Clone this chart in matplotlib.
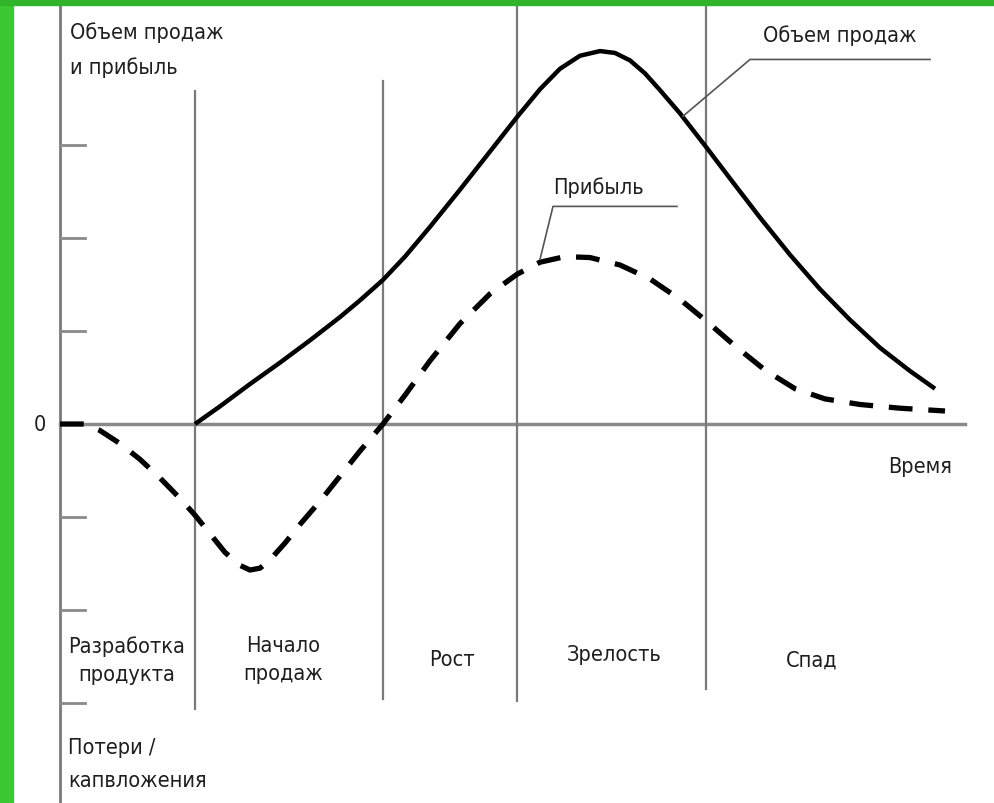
import matplotlib.pyplot as plt
import matplotlib.patches as mpatches
from matplotlib import font_manager

# pick a narrow font if the box has one
installed = {(f.name, f.stretch) for f in font_manager.fontManager.ttflist}
names = {n for n, s in installed}
if 'Liberation Sans Narrow' in names:
    family, stretch, fs = 'Liberation Sans Narrow', 'normal', 17.5
elif ('DejaVu Sans', 'condensed') in installed:
    family, stretch, fs = 'DejaVu Sans', 'condensed', 15.6
else:
    family, stretch, fs = 'Liberation Sans', 'normal', 15.5
plt.rcParams['font.family'] = [family, 'DejaVu Sans']
plt.rcParams['font.stretch'] = stretch

# time axis in arbitrary units, values in tick units
sales_t = [13.5, 16, 19, 22, 25, 28, 30, 32.3, 34.5, 37, 40, 43, 45.7, 48, 50, 52, 54,
           55.5, 57, 58.5, 60, 62, 64.6, 67, 70, 73, 76, 79, 82, 85, 87.5]
sales_v = [0, 0.19, 0.43, 0.66, 0.90, 1.15, 1.33, 1.55, 1.80, 2.12, 2.52, 2.93, 3.30, 3.60,
           3.82, 3.96, 4.01, 3.99, 3.91, 3.77, 3.59, 3.34, 2.98, 2.64, 2.22, 1.82, 1.45,
           1.12, 0.82, 0.57, 0.38]

profit_t = [0, 2.5, 4, 6, 8, 10, 12, 13.5, 15, 16.5, 18, 19, 20, 21, 22.5, 24, 26, 28, 30,
            32.3, 34.5, 37, 40, 43, 45.7, 48, 50.5, 53, 56, 59, 62, 64.6, 67.5, 70.5, 73.5,
            76.5, 80, 84, 88.5]
profit_v = [0, 0, -0.07, -0.21, -0.38, -0.58, -0.80, -0.98, -1.18, -1.38, -1.52, -1.57,
            -1.55, -1.46, -1.28, -1.08, -0.83, -0.56, -0.29, 0, 0.31, 0.68, 1.08, 1.40, 1.61,
            1.74, 1.80, 1.79, 1.71, 1.56, 1.34, 1.11, 0.84, 0.58, 0.38, 0.27, 0.21, 0.17, 0.14]

phase_bounds = [13.5, 32.3, 45.7, 64.6]
phase_tops = [3.58, 3.69, 4.52, 4.52]
phase_bottoms = [-3.06, -2.96, -2.98, -2.85]
phase_names = ['Разработка\nпродукта', 'Начало\nпродаж', 'Рост', 'Зрелость', 'Спад']
phase_centers = [6.7, 22.3, 39.2, 55.4, 75.2]
phase_label_v = [-2.53, -2.53, -2.53, -2.47, -2.53]
ticks = [-3, -2, -1, 1, 2, 3]

fig = plt.figure(figsize=(9.95, 8.04), dpi=100)
fig.patch.set_facecolor('white')
ax = fig.add_axes([0, 0, 1, 1])
ax.set_xlim(-6, 93.5)
ax.set_ylim(-4.075, 4.570)
ax.axis('off')

# green frame
fig.patches.append(mpatches.Rectangle((0, 0), 13 / 995, 1, transform=fig.transFigure,
                                      color='#3cc832', zorder=0))
fig.patches.append(mpatches.Rectangle((0, 1 - 6 / 804), 1, 6 / 804, transform=fig.transFigure,
                                      color='#30b52a', zorder=0))

txt = '#1e1e1e'
grey = '#7a7a7a'

# axes
ax.plot([0, 0], [-4.075, 4.52], color=grey, lw=2)
ax.plot([0, 90.5], [0, 0], color='#8a8a8a', lw=2.5)
for t in ticks:
    ax.plot([0, 2.5], [t, t], color='#8a8a8a', lw=2)

for x, top, bot in zip(phase_bounds, phase_tops, phase_bottoms):
    ax.plot([x, x], [bot, top], color=grey, lw=1.6)

ax.plot(sales_t, sales_v, color='black', lw=3.2, solid_capstyle='butt', solid_joinstyle='round')
ax.plot(profit_t, profit_v, color='black', lw=3.8, dashes=(4.5, 3), dash_capstyle='butt',
        dash_joinstyle='round')

# leader lines
ax.plot([87, 69, 62.3], [3.92, 3.92, 3.31], color='#555555', lw=1.2)
ax.plot([61.7, 49.3, 48], [2.34, 2.34, 1.77], color='#555555', lw=1.2)

ax.text(1.0, 4.33, 'Объем продаж\nи прибыль', ha='left', va='top', fontsize=fs,
        color=txt, linespacing=1.85)
ax.text(-2.0, 0, '0', ha='center', va='center', fontsize=fs, color=txt)
ax.text(86, -0.45, 'Время', ha='center', va='center', fontsize=fs, color=txt)
ax.text(78, 4.19, 'Объем продаж', ha='center', va='center', fontsize=fs, color=txt)
ax.text(53.8, 2.55, 'Прибыль', ha='center', va='center', fontsize=fs, color=txt)
for name, c, v in zip(phase_names, phase_centers, phase_label_v):
    ax.text(c, v, name, ha='center', va='center', fontsize=fs, color=txt, linespacing=1.5)
ax.text(0.8, -3.36, 'Потери /\nкапвложения', ha='left', va='top', fontsize=fs,
        color=txt, linespacing=1.85)

fig.savefig('out.png', dpi=100, facecolor=fig.get_facecolor())
